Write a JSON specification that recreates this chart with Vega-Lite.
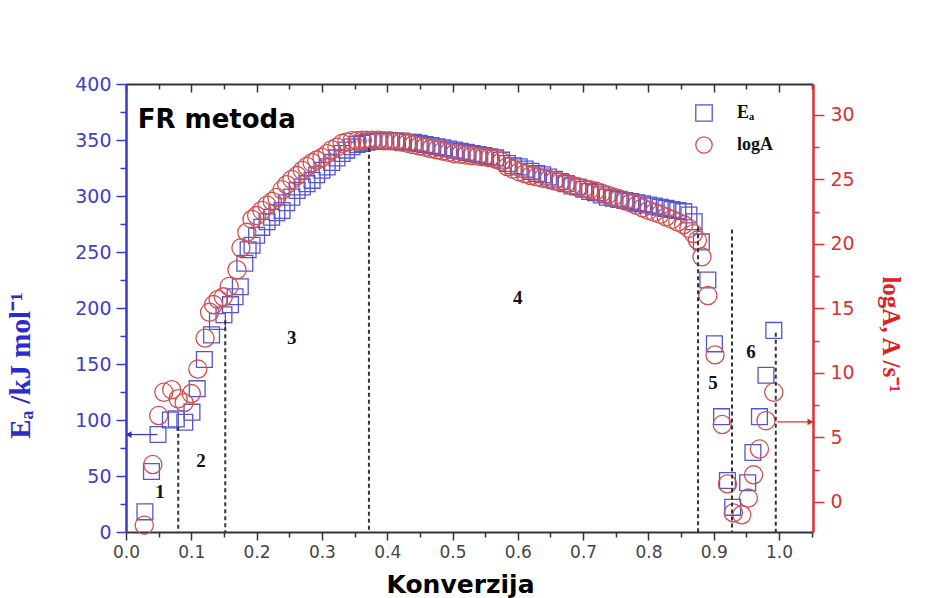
{
  "$schema": "https://vega.github.io/schema/vega-lite/v6.json",
  "width": 687,
  "height": 448,
  "autosize": {"type": "none"},
  "padding": {"left": 126, "top": 84, "right": 125, "bottom": 66},
  "background": "white",
  "view": {"stroke": null},
  "config": {"axis": {"grid": false, "labelFlush": false, "labelOverlap": false, "labelBound": false}},
  "datasets": {
    "ea": [
      {"x": 0.029, "Ea": 18}, {"x": 0.039, "Ea": 54}, {"x": 0.049, "Ea": 87}, {"x": 0.068, "Ea": 100},
      {"x": 0.077, "Ea": 101}, {"x": 0.09, "Ea": 98}, {"x": 0.101, "Ea": 107}, {"x": 0.109, "Ea": 128},
      {"x": 0.12, "Ea": 154}, {"x": 0.131, "Ea": 176}, {"x": 0.14, "Ea": 188}, {"x": 0.15, "Ea": 194},
      {"x": 0.16, "Ea": 203}, {"x": 0.167, "Ea": 210}, {"x": 0.175, "Ea": 219}, {"x": 0.182, "Ea": 240},
      {"x": 0.187, "Ea": 252}, {"x": 0.193, "Ea": 256}, {"x": 0.2, "Ea": 265}, {"x": 0.208, "Ea": 272},
      {"x": 0.216, "Ea": 277}, {"x": 0.223, "Ea": 281}, {"x": 0.231, "Ea": 285}, {"x": 0.239, "Ea": 287},
      {"x": 0.246, "Ea": 294}, {"x": 0.254, "Ea": 299}, {"x": 0.262, "Ea": 305}, {"x": 0.27, "Ea": 308},
      {"x": 0.277, "Ea": 311}, {"x": 0.285, "Ea": 314}, {"x": 0.292, "Ea": 319}, {"x": 0.3, "Ea": 323},
      {"x": 0.308, "Ea": 326}, {"x": 0.315, "Ea": 330}, {"x": 0.323, "Ea": 334}, {"x": 0.331, "Ea": 338},
      {"x": 0.338, "Ea": 341}, {"x": 0.346, "Ea": 344}, {"x": 0.354, "Ea": 346}, {"x": 0.362, "Ea": 347},
      {"x": 0.369, "Ea": 348}, {"x": 0.377, "Ea": 349}, {"x": 0.386, "Ea": 349}, {"x": 0.395, "Ea": 349},
      {"x": 0.404, "Ea": 349}, {"x": 0.413, "Ea": 349}, {"x": 0.422, "Ea": 349}, {"x": 0.431, "Ea": 348},
      {"x": 0.44, "Ea": 348}, {"x": 0.449, "Ea": 347}, {"x": 0.458, "Ea": 346}, {"x": 0.467, "Ea": 345},
      {"x": 0.476, "Ea": 344}, {"x": 0.485, "Ea": 343}, {"x": 0.494, "Ea": 342}, {"x": 0.503, "Ea": 341},
      {"x": 0.512, "Ea": 340}, {"x": 0.521, "Ea": 339}, {"x": 0.53, "Ea": 338}, {"x": 0.539, "Ea": 337},
      {"x": 0.548, "Ea": 336}, {"x": 0.557, "Ea": 335}, {"x": 0.566, "Ea": 334}, {"x": 0.575, "Ea": 332},
      {"x": 0.584, "Ea": 329}, {"x": 0.593, "Ea": 327}, {"x": 0.602, "Ea": 326}, {"x": 0.611, "Ea": 324},
      {"x": 0.62, "Ea": 322}, {"x": 0.629, "Ea": 320}, {"x": 0.638, "Ea": 319}, {"x": 0.647, "Ea": 317},
      {"x": 0.656, "Ea": 315}, {"x": 0.665, "Ea": 313}, {"x": 0.674, "Ea": 311}, {"x": 0.683, "Ea": 309},
      {"x": 0.692, "Ea": 308}, {"x": 0.701, "Ea": 306}, {"x": 0.71, "Ea": 304}, {"x": 0.719, "Ea": 303},
      {"x": 0.728, "Ea": 301}, {"x": 0.737, "Ea": 299}, {"x": 0.746, "Ea": 298}, {"x": 0.755, "Ea": 297},
      {"x": 0.764, "Ea": 296}, {"x": 0.773, "Ea": 295}, {"x": 0.782, "Ea": 294}, {"x": 0.791, "Ea": 293},
      {"x": 0.8, "Ea": 292}, {"x": 0.809, "Ea": 291}, {"x": 0.818, "Ea": 290}, {"x": 0.827, "Ea": 289},
      {"x": 0.836, "Ea": 288}, {"x": 0.845, "Ea": 287}, {"x": 0.854, "Ea": 286}, {"x": 0.862, "Ea": 283},
      {"x": 0.87, "Ea": 277}, {"x": 0.881, "Ea": 259}, {"x": 0.891, "Ea": 225}, {"x": 0.901, "Ea": 168},
      {"x": 0.912, "Ea": 103}, {"x": 0.921, "Ea": 46}, {"x": 0.929, "Ea": 22}, {"x": 0.952, "Ea": 44},
      {"x": 0.96, "Ea": 71}, {"x": 0.97, "Ea": 103}, {"x": 0.98, "Ea": 140}, {"x": 0.992, "Ea": 180}
    ],
    "la": [
      {"x": 0.028, "logA": -1.8}, {"x": 0.041, "logA": 2.9}, {"x": 0.05, "logA": 6.7}, {"x": 0.058, "logA": 8.5},
      {"x": 0.07, "logA": 8.7}, {"x": 0.08, "logA": 8.0}, {"x": 0.089, "logA": 7.7}, {"x": 0.1, "logA": 8.4},
      {"x": 0.11, "logA": 10.3}, {"x": 0.121, "logA": 12.7}, {"x": 0.128, "logA": 14.7}, {"x": 0.134, "logA": 15.3},
      {"x": 0.141, "logA": 15.7}, {"x": 0.149, "logA": 15.9}, {"x": 0.158, "logA": 16.7}, {"x": 0.17, "logA": 18.0},
      {"x": 0.176, "logA": 19.7}, {"x": 0.185, "logA": 20.9}, {"x": 0.193, "logA": 21.9}, {"x": 0.2, "logA": 22.2},
      {"x": 0.208, "logA": 22.6}, {"x": 0.216, "logA": 23.0}, {"x": 0.224, "logA": 23.3}, {"x": 0.231, "logA": 23.6},
      {"x": 0.239, "logA": 24.2}, {"x": 0.246, "logA": 24.6}, {"x": 0.254, "logA": 25.0}, {"x": 0.262, "logA": 25.3},
      {"x": 0.27, "logA": 25.7}, {"x": 0.277, "logA": 26.0}, {"x": 0.285, "logA": 26.3}, {"x": 0.292, "logA": 26.5},
      {"x": 0.3, "logA": 26.7}, {"x": 0.308, "logA": 27.0}, {"x": 0.315, "logA": 27.3}, {"x": 0.323, "logA": 27.5},
      {"x": 0.331, "logA": 27.8}, {"x": 0.338, "logA": 27.9}, {"x": 0.346, "logA": 28.0}, {"x": 0.354, "logA": 28.0},
      {"x": 0.362, "logA": 28.05}, {"x": 0.369, "logA": 28.05}, {"x": 0.377, "logA": 28.05}, {"x": 0.386, "logA": 28.05},
      {"x": 0.395, "logA": 28.0}, {"x": 0.404, "logA": 28.0}, {"x": 0.413, "logA": 27.95}, {"x": 0.422, "logA": 27.9},
      {"x": 0.431, "logA": 27.8}, {"x": 0.44, "logA": 27.7}, {"x": 0.449, "logA": 27.6}, {"x": 0.458, "logA": 27.5},
      {"x": 0.467, "logA": 27.4}, {"x": 0.476, "logA": 27.3}, {"x": 0.485, "logA": 27.2}, {"x": 0.494, "logA": 27.1},
      {"x": 0.503, "logA": 27.0}, {"x": 0.512, "logA": 26.95}, {"x": 0.521, "logA": 26.9}, {"x": 0.53, "logA": 26.85},
      {"x": 0.539, "logA": 26.8}, {"x": 0.548, "logA": 26.75}, {"x": 0.557, "logA": 26.7}, {"x": 0.566, "logA": 26.6},
      {"x": 0.575, "logA": 26.4}, {"x": 0.584, "logA": 26.0}, {"x": 0.593, "logA": 25.8}, {"x": 0.602, "logA": 25.6},
      {"x": 0.611, "logA": 25.45}, {"x": 0.62, "logA": 25.3}, {"x": 0.629, "logA": 25.2}, {"x": 0.638, "logA": 25.1},
      {"x": 0.647, "logA": 25.0}, {"x": 0.656, "logA": 24.9}, {"x": 0.665, "logA": 24.8}, {"x": 0.674, "logA": 24.7},
      {"x": 0.683, "logA": 24.55}, {"x": 0.692, "logA": 24.4}, {"x": 0.701, "logA": 24.3}, {"x": 0.71, "logA": 24.2},
      {"x": 0.719, "logA": 24.1}, {"x": 0.728, "logA": 23.95}, {"x": 0.737, "logA": 23.8}, {"x": 0.746, "logA": 23.65},
      {"x": 0.755, "logA": 23.5}, {"x": 0.764, "logA": 23.35}, {"x": 0.773, "logA": 23.2}, {"x": 0.782, "logA": 23.0},
      {"x": 0.791, "logA": 22.8}, {"x": 0.8, "logA": 22.6}, {"x": 0.809, "logA": 22.45}, {"x": 0.818, "logA": 22.3},
      {"x": 0.827, "logA": 22.1}, {"x": 0.836, "logA": 21.9}, {"x": 0.845, "logA": 21.7}, {"x": 0.854, "logA": 21.5},
      {"x": 0.862, "logA": 21.2}, {"x": 0.869, "logA": 20.8}, {"x": 0.875, "logA": 20.3}, {"x": 0.882, "logA": 19.0},
      {"x": 0.891, "logA": 16.0}, {"x": 0.902, "logA": 11.4}, {"x": 0.913, "logA": 6.0}, {"x": 0.921, "logA": 1.4},
      {"x": 0.93, "logA": -0.85}, {"x": 0.943, "logA": -1.0}, {"x": 0.953, "logA": 0.3}, {"x": 0.961, "logA": 2.1},
      {"x": 0.97, "logA": 4.1}, {"x": 0.98, "logA": 6.3}, {"x": 0.992, "logA": 8.5}
    ],
    "lines": [
      {"x": 0.08, "top": 94}, {"x": 0.152, "top": 189}, {"x": 0.372, "top": 343},
      {"x": 0.876, "top": 272}, {"x": 0.928, "top": 270}, {"x": 0.995, "top": 178}
    ],
    "regions": [
      {"x": 0.052, "Ea": 36, "label": "1"}, {"x": 0.115, "Ea": 63, "label": "2"},
      {"x": 0.254, "Ea": 173, "label": "3"}, {"x": 0.6, "Ea": 209, "label": "4"},
      {"x": 0.899, "Ea": 133, "label": "5"}, {"x": 0.957, "Ea": 161, "label": "6"}
    ],
    "blueArrow": [{"from": 0.048, "to": 0.004, "Ea": 87}],
    "redArrow": [{"from": 0.997, "to": 1.048, "logA": 6.2}],
    "heading": [{"x": 0.018, "Ea": 368, "label": "FR metoda"}]
  },
  "resolve": {"scale": {"x": "independent", "y": "independent"}},
  "layer": [
    {
      "data": {"name": "ea"},
      "mark": {"type": "point", "shape": "square", "filled": false, "size": 250, "strokeWidth": 1.3, "opacity": 1},
      "encoding": {
        "x": {"field": "x", "type": "quantitative",
              "scale": {"domain": [0, 1.052], "nice": false, "zero": false},
              "axis": {"orient": "bottom",
                       "values": [0, 0.05, 0.1, 0.15, 0.2, 0.25, 0.3, 0.35, 0.4, 0.45, 0.5, 0.55, 0.6, 0.65, 0.7, 0.75, 0.8, 0.85, 0.9, 0.95, 1.0, 1.05],
                       "labelExpr": "round(datum.value*20) % 2 === 0 ? format(datum.value, '.1f') : ''",
                       "title": "Konverzija", "titleFont": "DejaVu Sans", "titleFontSize": 25, "titleFontWeight": "bold", "titleColor": "#000000",
                       "titleX": 334, "titleY": 52, "titleBaseline": "middle", "titleAlign": "center",
                       "labelFont": "DejaVu Sans", "labelFontSize": 17, "labelColor": "#444444", "labelPadding": 4,
                       "tickSize": {"condition": {"test": "round(datum.value*20) % 2 === 0", "value": 8}, "value": 5},
                       "tickColor": "#333333", "tickWidth": 1.5, "domainColor": "#333333", "domainWidth": 2}},
        "y": {"field": "Ea", "type": "quantitative",
              "scale": {"domain": [0, 400], "nice": false, "zero": false},
              "axis": {"orient": "left",
                       "values": [0, 25, 50, 75, 100, 125, 150, 175, 200, 225, 250, 275, 300, 325, 350, 375, 400],
                       "labelExpr": "round(datum.value) % 50 === 0 ? format(datum.value, 'd') : ''",
                       "title": "Eₐ /kJ mol⁻¹", "titleFont": "Liberation Serif", "titleFontSize": 29, "titleFontWeight": "bold", "titleColor": "#2b2bd0",
                       "titleX": -106, "titleY": 281, "titleAngle": -90, "titleBaseline": "middle", "titleAlign": "center",
                       "labelFont": "DejaVu Sans", "labelFontSize": 19, "labelColor": "#4040c8", "labelPadding": 5,
                       "tickSize": {"condition": {"test": "round(datum.value) % 50 === 0", "value": 10}, "value": 6},
                       "tickColor": "#3a3ac8", "tickWidth": 1.5, "domainColor": "#3a3ac8", "domainWidth": 2.5}},
        "color": {"datum": "Eₐ", "type": "nominal",
                  "scale": {"domain": ["Eₐ", "logA"], "range": ["#5555d0", "#d25050"]},
                  "legend": {"orient": "none", "legendX": 569, "legendY": 20, "title": null, "padding": 0,
                             "labelFont": "Liberation Serif", "labelFontSize": 18, "labelFontWeight": "bold", "labelColor": "#111111",
                             "labelOffset": 24, "rowPadding": 10, "symbolSize": 270, "symbolStrokeWidth": 1.3}},
        "shape": {"datum": "Eₐ", "type": "nominal",
                  "scale": {"domain": ["Eₐ", "logA"], "range": ["square", "circle"]},
                  "legend": {"orient": "none", "legendX": 569, "legendY": 20, "title": null, "padding": 0,
                             "labelFont": "Liberation Serif", "labelFontSize": 18, "labelFontWeight": "bold", "labelColor": "#111111",
                             "labelOffset": 24, "rowPadding": 10, "symbolSize": 270, "symbolStrokeWidth": 1.3}}
      }
    },
    {
      "data": {"name": "la"},
      "mark": {"type": "point", "filled": false, "size": 330, "strokeWidth": 1.3, "opacity": 1},
      "encoding": {
        "x": {"field": "x", "type": "quantitative",
              "scale": {"domain": [0, 1.052], "nice": false, "zero": false},
              "axis": {"orient": "top",
                       "values": [0, 0.05, 0.1, 0.15, 0.2, 0.25, 0.3, 0.35, 0.4, 0.45, 0.5, 0.55, 0.6, 0.65, 0.7, 0.75, 0.8, 0.85, 0.9, 0.95, 1.0, 1.05],
                       "labels": false, "title": null,
                       "tickSize": {"condition": {"test": "round(datum.value*20) % 2 === 0", "value": -8}, "value": -5},
                       "tickColor": "#333333", "tickWidth": 1.5, "domainColor": "#333333", "domainWidth": 2}},
        "y": {"field": "logA", "type": "quantitative",
              "scale": {"domain": [-2.33, 32.4], "nice": false, "zero": false},
              "axis": {"orient": "right",
                       "values": [0, 2.5, 5, 7.5, 10, 12.5, 15, 17.5, 20, 22.5, 25, 27.5, 30],
                       "labelExpr": "round(datum.value*2) % 10 === 0 ? format(datum.value, 'd') : ''",
                       "title": "logA, A /s⁻¹", "titleFont": "Liberation Serif", "titleFontSize": 25, "titleFontWeight": "bold", "titleColor": "#e02020",
                       "titleX": 77, "titleY": 250, "titleAngle": 90, "titleBaseline": "middle", "titleAlign": "center",
                       "labelFont": "DejaVu Sans", "labelFontSize": 19, "labelColor": "#e03030", "labelPadding": 6,
                       "tickSize": {"condition": {"test": "round(datum.value*2) % 10 === 0", "value": 11}, "value": 6},
                       "tickColor": "#e03030", "tickWidth": 1.5, "domainColor": "#e03030", "domainWidth": 2.5}},
        "color": {"datum": "logA", "type": "nominal"},
        "shape": {"datum": "logA", "type": "nominal"}
      }
    },
    {
      "data": {"name": "lines"},
      "mark": {"type": "rule", "color": "#333333", "strokeWidth": 2, "strokeDash": [4, 3]},
      "encoding": {
        "x": {"field": "x", "type": "quantitative", "scale": {"domain": [0, 1.052], "nice": false, "zero": false}, "axis": null},
        "y": {"field": "top", "type": "quantitative", "scale": {"domain": [0, 400], "nice": false, "zero": false}, "axis": null},
        "y2": {"datum": 0}
      }
    },
    {
      "data": {"name": "regions"},
      "mark": {"type": "text", "font": "Liberation Serif", "fontSize": 19, "fontWeight": "bold", "color": "#111111", "align": "center", "baseline": "middle"},
      "encoding": {
        "x": {"field": "x", "type": "quantitative", "scale": {"domain": [0, 1.052], "nice": false, "zero": false}, "axis": null},
        "y": {"field": "Ea", "type": "quantitative", "scale": {"domain": [0, 400], "nice": false, "zero": false}, "axis": null},
        "text": {"field": "label"}
      }
    },
    {
      "data": {"name": "heading"},
      "mark": {"type": "text", "font": "DejaVu Sans", "fontSize": 26, "fontWeight": "bold", "color": "#000000", "align": "left", "baseline": "middle"},
      "encoding": {
        "x": {"field": "x", "type": "quantitative", "scale": {"domain": [0, 1.052], "nice": false, "zero": false}, "axis": null},
        "y": {"field": "Ea", "type": "quantitative", "scale": {"domain": [0, 400], "nice": false, "zero": false}, "axis": null},
        "text": {"field": "label"}
      }
    },
    {
      "data": {"name": "blueArrow"},
      "mark": {"type": "rule", "color": "#3a3ac8", "strokeWidth": 1.3},
      "encoding": {
        "x": {"field": "from", "type": "quantitative", "scale": {"domain": [0, 1.052], "nice": false, "zero": false}, "axis": null},
        "x2": {"field": "to"},
        "y": {"field": "Ea", "type": "quantitative", "scale": {"domain": [0, 400], "nice": false, "zero": false}, "axis": null}
      }
    },
    {
      "data": {"name": "blueArrow"},
      "mark": {"type": "point", "shape": "triangle-left", "filled": true, "size": 45, "color": "#2b2bd0", "opacity": 1},
      "encoding": {
        "x": {"field": "to", "type": "quantitative", "scale": {"domain": [0, 1.052], "nice": false, "zero": false}, "axis": null},
        "y": {"field": "Ea", "type": "quantitative", "scale": {"domain": [0, 400], "nice": false, "zero": false}, "axis": null}
      }
    },
    {
      "data": {"name": "redArrow"},
      "mark": {"type": "rule", "color": "#e03030", "strokeWidth": 1.3},
      "encoding": {
        "x": {"field": "from", "type": "quantitative", "scale": {"domain": [0, 1.052], "nice": false, "zero": false}, "axis": null},
        "x2": {"field": "to"},
        "y": {"field": "logA", "type": "quantitative", "scale": {"domain": [-2.33, 32.4], "nice": false, "zero": false}, "axis": null}
      }
    },
    {
      "data": {"name": "redArrow"},
      "mark": {"type": "point", "shape": "triangle-right", "filled": true, "size": 45, "color": "#e02020", "opacity": 1},
      "encoding": {
        "x": {"field": "to", "type": "quantitative", "scale": {"domain": [0, 1.052], "nice": false, "zero": false}, "axis": null},
        "y": {"field": "logA", "type": "quantitative", "scale": {"domain": [-2.33, 32.4], "nice": false, "zero": false}, "axis": null}
      }
    }
  ]
}
